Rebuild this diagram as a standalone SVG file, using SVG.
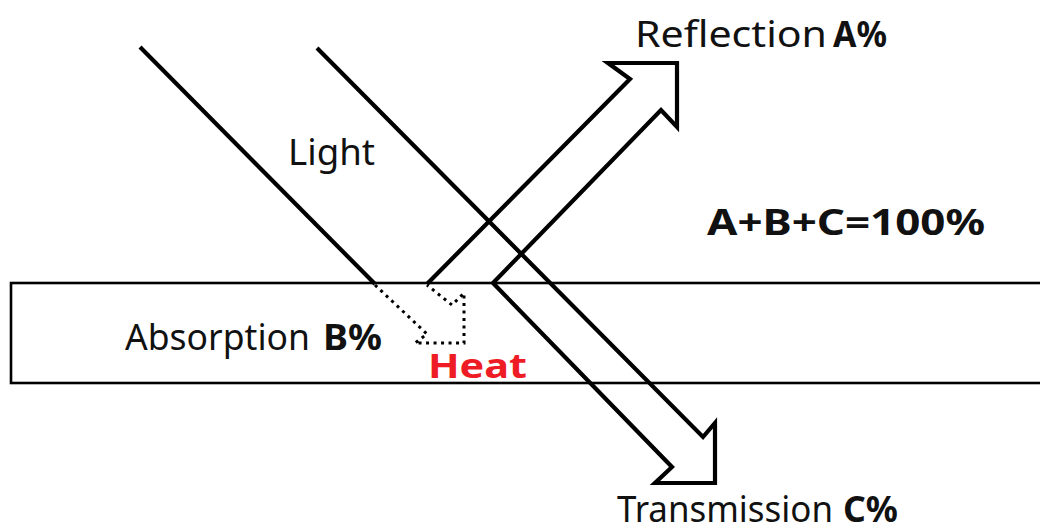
<svg xmlns="http://www.w3.org/2000/svg" width="1040" height="532" viewBox="0 0 1040 532">
<style>
.t{font-family:"Noto Sans","Liberation Sans",sans-serif;font-size:36px;fill:#111}
.b{font-weight:bold}
.heat{fill:#ee1c25;font-size:34px}
.ln{fill:none;stroke:#000;stroke-width:4.2;stroke-linejoin:miter;stroke-miterlimit:10}
.dot{fill:none;stroke:#000;stroke-width:3;stroke-dasharray:3 4.5}
</style>
<rect width="1040" height="532" fill="#fff"/>
<g id="material">
<rect x="11" y="283" width="1040" height="100" fill="none" stroke="#000" stroke-width="2.6"/>
</g>
<g id="connectors">
<polyline class="ln" points="140,47 375,284"/>
<polyline class="ln" points="317,48 703,437 715,423 715,483 655,483 672,467 493,283 661,110 677,127 677,63 608,63 630,79 427,284"/>
<polyline class="dot" points="375,285 427,334 415,343 464,343 464,293 452,305 427,285"/>
</g>
<g id="light"><text class="t" x="288" y="165" textLength="87" lengthAdjust="spacingAndGlyphs">Light</text></g>
<g id="reflection"><text class="t" x="635" y="47" textLength="192" lengthAdjust="spacingAndGlyphs">Reflection</text><text class="t b" x="833" y="47" textLength="54" lengthAdjust="spacingAndGlyphs">A%</text></g>
<g id="sum"><text class="t b" x="707" y="235" textLength="278" lengthAdjust="spacingAndGlyphs">A+B+C=100%</text></g>
<g id="absorption"><text class="t" x="125" y="350" textLength="185" lengthAdjust="spacingAndGlyphs">Absorption</text><text class="t b" x="323" y="350" textLength="59" lengthAdjust="spacingAndGlyphs">B%</text></g>
<g id="heat"><text class="t b heat" x="428" y="378" textLength="99" lengthAdjust="spacingAndGlyphs">Heat</text></g>
<g id="transmission"><text class="t" x="617" y="522" font-size="31" textLength="216" lengthAdjust="spacingAndGlyphs">Transmission</text><text class="t b" x="843" y="522" font-size="31" textLength="55" lengthAdjust="spacingAndGlyphs">C%</text></g>
</svg>
